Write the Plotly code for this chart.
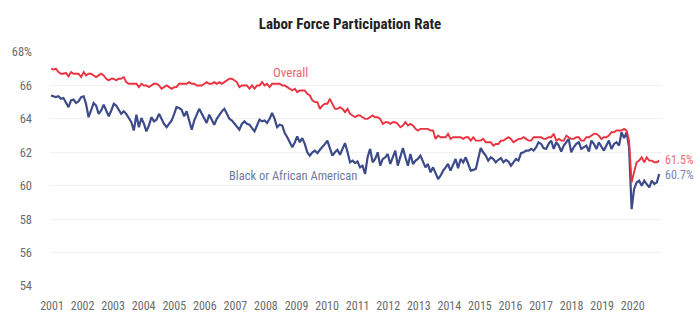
import pandas as pd
import plotly.graph_objects as go

# Monthly data, Jan 2001 - Mar 2021
overall = [
    67.0, 66.95, 67.0, 66.8, 66.7, 66.7, 66.75, 66.55, 66.8, 66.7, 66.7, 66.7,      # 2001
    66.5, 66.8, 66.6, 66.7, 66.7, 66.6, 66.5, 66.6, 66.7, 66.6, 66.4, 66.3,        # 2002
    66.4, 66.4, 66.3, 66.4, 66.4, 66.5, 66.2, 66.1, 66.1, 66.1, 66.1, 65.9,        # 2003
    66.1, 66.0, 66.0, 65.9, 66.0, 66.1, 66.1, 66.0, 65.8, 65.9, 66.0, 65.9,        # 2004
    65.8, 65.9, 65.9, 66.1, 66.1, 66.1, 66.1, 66.2, 66.1, 66.1, 66.0, 66.0,        # 2005
    66.0, 66.1, 66.2, 66.1, 66.1, 66.2, 66.1, 66.2, 66.1, 66.2, 66.3, 66.4,        # 2006
    66.4, 66.3, 66.2, 65.9, 66.0, 66.0, 66.0, 65.8, 66.0, 65.8, 66.0, 66.0,        # 2007
    66.2, 66.0, 66.1, 65.9, 66.1, 66.1, 66.1, 66.1, 66.0, 66.0, 65.9, 65.8,        # 2008
    65.7, 65.8, 65.6, 65.7, 65.7, 65.7, 65.5, 65.4, 65.1, 65.0, 65.0, 64.6,        # 2009
    64.8, 64.9, 64.9, 65.2, 64.9, 64.6, 64.6, 64.7, 64.6, 64.4, 64.6, 64.3,        # 2010
    64.2, 64.1, 64.2, 64.2, 64.1, 64.0, 64.0, 64.1, 64.2, 64.1, 64.1, 64.0,        # 2011
    63.7, 63.8, 63.8, 63.7, 63.8, 63.8, 63.7, 63.5, 63.6, 63.8, 63.6, 63.7,        # 2012
    63.6, 63.4, 63.3, 63.4, 63.4, 63.4, 63.4, 63.3, 63.3, 62.8, 63.0, 62.9,        # 2013
    62.9, 62.9, 63.1, 62.8, 62.9, 62.9, 62.9, 62.9, 62.8, 62.9, 62.9, 62.7,        # 2014
    62.9, 62.7, 62.7, 62.7, 62.8, 62.6, 62.6, 62.6, 62.4, 62.5, 62.5, 62.7,        # 2015
    62.7, 62.8, 62.9, 62.8, 62.6, 62.7, 62.8, 62.8, 62.9, 62.8, 62.7, 62.7,        # 2016
    62.9, 62.9, 62.9, 62.9, 62.8, 62.8, 62.9, 62.9, 63.1, 62.7, 62.8, 62.7,        # 2017
    62.7, 63.0, 62.9, 62.8, 62.8, 62.9, 62.9, 62.7, 62.7, 62.9, 62.9, 63.0,        # 2018
    63.1, 63.1, 63.0, 62.8, 62.9, 62.9, 63.0, 63.2, 63.2, 63.3, 63.3, 63.3,        # 2019
    63.4, 63.3, 62.7, 60.2, 60.8, 61.4, 61.5, 61.7, 61.4, 61.7, 61.5, 61.5,        # 2020
    61.4, 61.4, 61.5,                                                               # 2021
]

black = [
    65.4, 65.35, 65.3, 65.35, 65.2, 65.25, 65.0, 64.7, 65.1, 65.15, 64.95, 65.05,  # 2001
    65.3, 65.35, 64.9, 64.1, 64.5, 64.95, 64.8, 64.3, 64.5, 64.85, 64.5, 64.15,    # 2002
    64.5, 64.9, 64.8, 64.55, 64.3, 64.45, 64.3, 64.05, 63.8, 63.3, 64.25, 63.5,    # 2003
    64.05, 63.7, 63.25, 63.6, 64.1, 63.85, 63.95, 64.3, 64.0, 63.7, 63.5, 63.7,    # 2004
    63.9, 64.3, 64.7, 64.65, 64.55, 64.15, 64.45, 63.9, 63.35, 63.9, 64.3, 64.6,   # 2005
    64.3, 64.05, 63.75, 64.25, 63.9, 63.65, 64.0, 64.25, 64.45, 64.6, 64.3, 64.0,  # 2006
    63.9, 63.7, 63.5, 63.35, 63.7, 63.85, 63.7, 63.65, 63.45, 63.25, 63.6, 63.95,  # 2007
    63.85, 63.9, 63.75, 64.0, 64.35, 64.0, 63.5, 63.65, 63.6, 63.15, 62.9, 62.6,   # 2008
    62.3, 62.6, 62.95, 62.6, 62.85, 62.5, 62.0, 61.8, 62.0, 62.1, 61.95, 62.15,    # 2009
    62.3, 62.5, 62.7, 62.3, 61.8, 62.0, 62.15, 61.85, 62.2, 62.55, 62.0, 61.4,     # 2010
    61.5, 61.35, 61.45, 61.1, 61.2, 60.7, 61.7, 62.2, 61.4, 61.6, 62.0, 61.2,      # 2011
    61.6, 61.7, 61.9, 61.3, 61.7, 62.1, 61.2, 61.7, 62.25, 61.7, 61.2, 61.9,       # 2012
    61.3, 61.5, 61.6, 61.8, 61.4, 61.1, 61.3, 60.8, 61.1, 60.7, 60.4, 60.6,        # 2013
    60.9, 61.1, 61.3, 60.9, 61.2, 61.6, 61.05, 61.6, 61.4, 61.7, 61.3, 60.9,       # 2014
    60.95, 61.0, 61.6, 62.25, 62.0, 61.8, 61.5, 61.7, 61.6, 61.4, 61.55, 61.65,    # 2015
    61.4, 61.55, 61.45, 61.2, 61.4, 61.6, 61.5, 61.95, 62.0, 62.1, 62.1, 62.2,     # 2016
    62.1, 62.3, 62.6, 62.5, 62.25, 62.2, 62.5, 62.7, 62.2, 62.6, 62.4, 62.05,      # 2017
    62.4, 62.6, 62.8, 62.0, 62.3, 62.5, 62.6, 62.2, 62.3, 62.4, 62.05, 62.7,       # 2018
    62.5, 62.2, 62.6, 62.35, 62.1, 62.4, 62.7, 62.2, 62.5, 62.6, 62.4, 63.2,       # 2019
    62.85, 63.2, 62.3, 58.6, 59.8, 60.2, 60.3, 60.0, 60.3, 60.1, 59.9, 60.3,       # 2020
    60.1, 60.2, 60.7,                                                               # 2021
]

year_labels = [str(y) for y in range(2001, 2021)]
y_tick_values = [54, 56, 58, 60, 62, 64, 66, 68]
y_tick_text = ["54", "56", "58", "60", "62", "64", "66", "68%"]

dates = pd.date_range("2001-01-01", periods=len(overall), freq="MS")

RED = "#ea3340"
BLUE = "#3d4b89"
FONT = "Roboto Condensed, Liberation Sans Narrow, Roboto, sans-serif"

fig = go.Figure()
fig.add_trace(go.Scatter(x=dates, y=black, mode="lines",
                         line=dict(color=BLUE, width=2.2), hoverinfo="skip"))
fig.add_trace(go.Scatter(x=dates, y=overall, mode="lines",
                         line=dict(color=RED, width=1.9), hoverinfo="skip"))

# tick label positions: evenly spaced label slots, ~12.16 months apart
start = dates[0]
month_days = 30.4375
tickvals = [start + pd.Timedelta(days=(0.4 + k * 12.158) * month_days)
            for k in range(len(year_labels))]

fig.add_annotation(x=pd.Timestamp("2008-12-15"), y=66.8, text="Overall",
                   showarrow=False, xanchor="center", yanchor="middle",
                   font=dict(family=FONT, size=13, color="#f0646c"))
fig.add_annotation(x=pd.Timestamp("2009-01-10"), y=60.6, text="Black or African American",
                   showarrow=False, xanchor="center", yanchor="middle",
                   font=dict(family=FONT, size=12.5, color="#6f78a8"))
fig.add_annotation(x=dates[-1], y=overall[-1], text=f"{overall[-1]}%",
                   showarrow=False, xanchor="left", yanchor="middle", xshift=4, yshift=0.5,
                   font=dict(family=FONT, size=12, color="#f26a72"))
fig.add_annotation(x=dates[-1], y=black[-1], text=f"{black[-1]}%",
                   showarrow=False, xanchor="left", yanchor="middle", xshift=4, yshift=-1,
                   font=dict(family=FONT, size=12, color="#7a84ad"))

fig.update_layout(
    width=700, height=325,
    margin=dict(l=40, r=38, t=52, b=38),
    paper_bgcolor="white", plot_bgcolor="white",
    showlegend=False,
    title=dict(text="<b>Labor Force Participation Rate</b>", x=0.5, xanchor="center",
               y=1 - 24 / 325, yanchor="middle",
               font=dict(family=FONT, size=15, color="#222222")),
    font=dict(family=FONT, size=12, color="#6b6b6b"),
)
fig.update_xaxes(
    type="date",
    range=[pd.Timestamp("2000-12-20"), pd.Timestamp("2021-04-04")],
    tickmode="array", tickvals=tickvals, ticktext=year_labels,
    showgrid=False, zeroline=False, showline=False, ticks="",
    ticklabelstandoff=11,
    tickfont=dict(family=FONT, size=12, color="#6b6b6b"),
)
fig.update_yaxes(
    range=[54, 68],
    tickmode="array", tickvals=y_tick_values, ticktext=y_tick_text,
    showgrid=True, gridcolor="#f1f1f1", gridwidth=1,
    zeroline=False, showline=False, ticks="",
    ticklabelstandoff=17,
    tickfont=dict(family=FONT, size=12.5, color="#6b6b6b"),
)

fig.write_html("out.html")
